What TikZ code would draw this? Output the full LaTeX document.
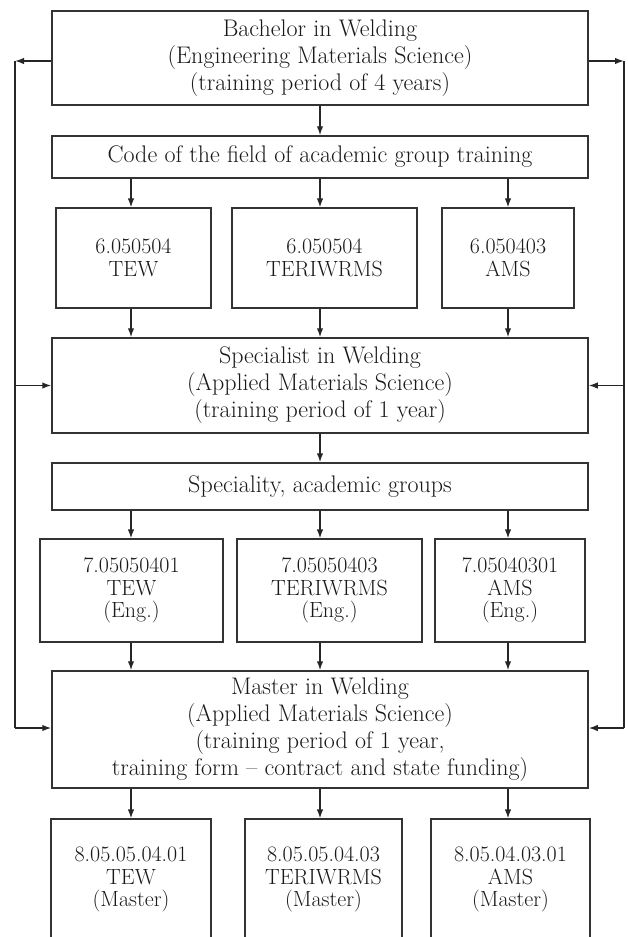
\documentclass[tikz,border=0pt]{standalone}
\usetikzlibrary{arrows.meta}
\begin{document}
\begin{tikzpicture}[x=1pt,y=-1pt,
  every node/.style={font=\fontsize{24}{27}\selectfont, text=black!90},
  bigbox/.style={draw=black!80, line width=1.5pt, align=center, inner sep=0pt, minimum width=536pt},
  smallbox/.style={draw=black!80, line width=1.2pt, align=center, inner sep=0pt, font=\fontsize{22}{22.5}\selectfont},
  arr/.style={draw=black!85, line width=1.4pt, -{Latex[length=9pt,width=6.5pt]}},
  ln/.style={draw=black!85, line width=1.4pt}]
\clip (0,0) rectangle (627,937);
% columns
\coordinate (c1) at (131,0);
\coordinate (c2) at (320,0);
\coordinate (c3) at (508,0);
% main boxes
\node[bigbox, minimum height=94pt] (bach) at (320,58) {Bachelor in Welding\\(Engineering Materials Science)\\(training period of 4 years)};
\node[bigbox, minimum height=42pt] (code) at (320,157) {Code of the field of academic group training};
\node[smallbox, minimum width=155pt, minimum height=100pt] (r1a) at (133.5,258) {6.050504\\TEW};
\node[smallbox, minimum width=185pt, minimum height=100pt] (r1b) at (324.5,258) {6.050504\\TERIWRMS};
\node[smallbox, minimum width=132pt, minimum height=100pt] (r1c) at (508,258) {6.050403\\AMS};
\node[bigbox, minimum height=95pt] (spec) at (320,385.5) {Specialist in Welding\\(Applied Materials Science)\\(training period of 1 year)};
\node[bigbox, minimum height=47pt] (spty) at (320,486.5) {Speciality, academic groups};
\node[smallbox, minimum width=183pt, minimum height=103pt] (r2a) at (131.5,590.5) {7.05050401\\TEW\\(Eng.)};
\node[smallbox, minimum width=185pt, minimum height=103pt] (r2b) at (329.5,590.5) {7.05050403\\TERIWRMS\\(Eng.)};
\node[smallbox, minimum width=150pt, minimum height=103pt] (r2c) at (510,590.5) {7.05040301\\AMS\\(Eng.)};
\node[bigbox, minimum height=117pt] (mast) at (320,729.5) {Master in Welding\\(Applied Materials Science)\\(training period of 1 year,\\training form -- contract and state funding)};
\node[smallbox, minimum width=160pt, minimum height=150pt] (r3a) at (131,894) {8.05.05.04.01\\TEW\\(Master)\\[12pt]};
\node[smallbox, minimum width=157pt, minimum height=150pt] (r3b) at (323.5,894) {8.05.05.04.03\\TERIWRMS\\(Master)\\[12pt]};
\node[smallbox, minimum width=159pt, minimum height=150pt] (r3c) at (510.5,894) {8.05.04.03.01\\AMS\\(Master)\\[12pt]};
% vertical arrows
\draw[arr] (bach.south) -- (code.north);
\foreach \c/\b in {c1/r1a, c2/r1b, c3/r1c}{
  \draw[arr] (code.south -| \c) -- (\b.north -| \c);
  \draw[arr] (\b.south -| \c) -- (spec.north -| \c);
}
\draw[arr] (spec.south) -- (spty.north);
\foreach \c/\b in {c1/r2a, c2/r2b, c3/r2c}{
  \draw[arr] (spty.south -| \c) -- (\b.north -| \c);
  \draw[arr] (\b.south -| \c) -- (mast.north -| \c);
}
\foreach \c/\b in {c1/r3a, c2/r3b, c3/r3c}{
  \draw[arr] (mast.south -| \c) -- (\b.north -| \c);
}
% side feedback lines
\coordinate (L1) at (15,61);
\coordinate (L3) at (15,728);
\coordinate (R1) at (624,61);
\coordinate (R3) at (624,728);
\draw[arr] (bach.west |- L1) -- (L1);
\draw[ln] (L1) -- (L3);
\draw[arr] (spec.west -| L1) -- (spec.west);
\draw[arr] (L3) -- (mast.west |- L3);
\draw[arr] (bach.east |- R1) -- (R1);
\draw[ln] (R1) -- (R3);
\draw[arr] (spec.east -| R1) -- (spec.east);
\draw[arr] (R3) -- (mast.east |- R3);
\end{tikzpicture}
\end{document}
